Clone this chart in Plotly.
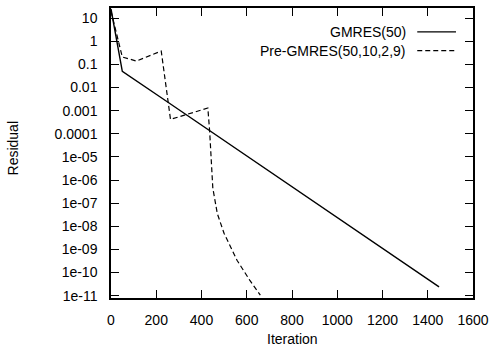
import plotly.graph_objects as go

# --- data ---
gmres_x = [0, 50, 255, 1450]
gmres_y = [25, 0.05, 2.2e-3, 2.4e-11]

pre_x = [0, 50, 112, 215, 222, 263, 428, 436, 442, 450, 470, 500, 557, 613, 660]
pre_y = [20, 0.21, 0.14, 0.38, 0.38, 4.2e-4, 1.3e-3, 1.3e-4, 1.3e-5, 4.5e-7, 3.5e-8, 4.9e-9, 3.4e-10, 4.7e-11, 1.05e-11]

ytick_vals = [10, 1, 0.1, 0.01, 0.001, 0.0001, 1e-05, 1e-06, 1e-07, 1e-08, 1e-09, 1e-10, 1e-11]
ytick_text = ["10", "1", "0.1", "0.01", "0.001", "0.0001", "1e-05", "1e-06", "1e-07",
              "1e-08", "1e-09", "1e-10", "1e-11"]
xtick_vals = [0, 200, 400, 600, 800, 1000, 1200, 1400, 1600]

series_names = ["GMRES(50)", "Pre-GMRES(50,10,2,9)"]

FONT = "Liberation Sans, Arial, Helvetica, sans-serif"
FS = 14

fig = go.Figure()
fig.add_trace(go.Scatter(x=gmres_x, y=gmres_y, mode="lines", name=series_names[0],
                         line=dict(color="black", width=1.4), showlegend=False))
fig.add_trace(go.Scatter(x=pre_x, y=pre_y, mode="lines", name=series_names[1],
                         line=dict(color="black", width=1.2, dash="5px,3px"), showlegend=False))

fig.update_layout(
    width=495, height=348,
    margin=dict(l=111, r=16, t=6, b=50),
    paper_bgcolor="white", plot_bgcolor="white",
    font=dict(family=FONT, size=FS, color="black"),
    xaxis=dict(range=[0, 1600], tickvals=xtick_vals, ticks="inside", ticklen=8,
               tickwidth=1.3, tickcolor="black", showline=True, linecolor="black",
               linewidth=1.5, mirror="ticks", showgrid=False, zeroline=False,
               ticklabelstandoff=8, tickfont=dict(size=FS, family=FONT)),
    yaxis=dict(type="log", range=[-11.1, 1.44], tickvals=ytick_vals, ticktext=ytick_text,
               ticks="inside", ticklen=8, tickwidth=1.3, tickcolor="black",
               showline=True, linecolor="black", linewidth=1.5, mirror="ticks",
               showgrid=False, zeroline=False, ticklabelstandoff=9,
               tickfont=dict(size=FS, family=FONT)),
)

# axis titles as annotations
fig.add_annotation(text="Iteration", xref="paper", yref="paper", x=0.5, y=-0.142,
                   yanchor="middle", showarrow=False, font=dict(size=FS, family=FONT))
fig.add_annotation(text="Residual", xref="paper", x=-0.272, xanchor="center",
                   yref="paper", y=0.514, yanchor="middle", textangle=-90, showarrow=False,
                   font=dict(size=FS, family=FONT))

# gnuplot-style legend: text then sample line
leg_y = [0.918, 0.853]
for name, yy, dash in zip(series_names, leg_y, ["solid", "5px,3px"]):
    fig.add_annotation(text=name, xref="paper", yref="paper", x=0.82, y=yy,
                       xanchor="right", yanchor="middle", showarrow=False,
                       font=dict(size=FS, family=FONT))
    fig.add_shape(type="line", xref="paper", yref="paper", x0=0.846, x1=0.953,
                  y0=yy, y1=yy, line=dict(color="black", width=1.2, dash=dash))

fig.write_html("out.html", config={"displayModeBar": False},
               post_script="document.body.style.margin='0';")
